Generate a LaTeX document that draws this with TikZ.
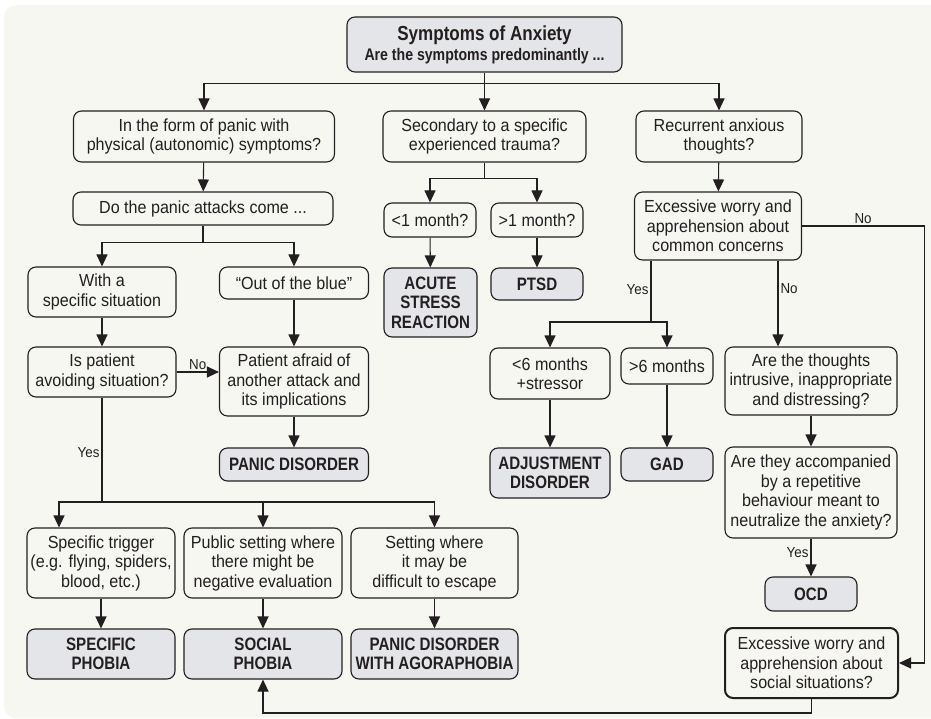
\documentclass[tikz,border=0pt]{standalone}
\usepackage{fontspec}
\setmainfont{Liberation Sans}[FakeStretch=0.92, BoldFeatures={FakeStretch=0.84}]
\usetikzlibrary{arrows.meta,positioning}
\definecolor{paper}{HTML}{F7F7F1}
\definecolor{shade}{HTML}{E4E5E9}
\definecolor{ink}{HTML}{231F20}
\tikzset{
    box/.style={rectangle, draw=ink, rounded corners=8pt, line width=1.1pt, fill=paper, align=center, inner sep=2pt, text=ink, font=\fontsize{17.5}{19.5}\selectfont},
    result/.style={box, fill=shade, font=\bfseries\fontsize{18}{19.5}\selectfont},
    edge/.style={draw=ink, line width=1.1pt, -{Triangle[length=12pt, width=11pt]}},
    line/.style={draw=ink, line width=1.1pt},
    answer/.style={text=ink, font=\fontsize{14.5}{16}\selectfont, inner sep=2pt}
}

\begin{document}
\begin{tikzpicture}[x=1pt, y=-1pt]
    \useasboundingbox (0,0) rectangle (931,719);
    \fill[paper, rounded corners=12pt] (4,5) rectangle (960,718);

    % Nodes
    \node[result, minimum width=275pt, minimum height=55pt, font=\bfseries\fontsize{16.8}{20}\selectfont] (anxiety) at (484.5,44.5) {{\fontsize{20.3}{20}\selectfont Symptoms of Anxiety}\\Are the symptoms predominantly ...};
    \node[box, minimum width=261pt, minimum height=51pt] (panic) at (204,136.5) {In the form of panic with\\physical (autonomic) symptoms?};
    \node[box, minimum width=203pt, minimum height=51pt] (trauma) at (484.5,136.5) {Secondary to a specific\\experienced trauma?};
    \node[box, minimum width=166pt, minimum height=51pt] (thoughts) at (719,136.5) {Recurrent anxious\\thoughts?};

    \node[box, minimum width=260pt, minimum height=33pt] (come) at (203,208.5) {Do the panic attacks come ...};
    \node[box, minimum width=148pt, minimum height=50pt] (situation) at (102,292) {With a\\specific situation};
    \node[box, minimum width=149pt, minimum height=32pt] (blue) at (294,283) {“Out of the blue”};
    \node[box, minimum width=148pt, minimum height=50pt] (avoid) at (102,372) {Is patient\\avoiding situation?};
    \node[box, minimum width=149pt, minimum height=69pt] (afraid) at (294,381.5) {Patient afraid of\\another attack and\\its implications};
    \node[result, minimum width=149pt, minimum height=33pt] (pd) at (294,464.5) {PANIC DISORDER};

    \node[box, minimum width=92pt, minimum height=34pt] (less1) at (430,220) {<1 month?};
    \node[box, minimum width=92pt, minimum height=34pt] (more1) at (537,220) {>1 month?};
    \node[result, minimum width=93pt, minimum height=69pt] (acute) at (430.5,302.5) {ACUTE\\STRESS\\REACTION};
    \node[result, minimum width=92pt, minimum height=32pt] (ptsd) at (537,284) {PTSD};

    \node[box, minimum width=167pt, minimum height=68pt] (worry) at (718,226) {Excessive worry and\\apprehension about\\common concerns};
    \node[box, minimum width=120pt, minimum height=51pt] (less6) at (550,373.5) {<6 months\\+stressor};
    \node[box, minimum width=92pt, minimum height=36pt] (more6) at (667,366) {>6 months};
    \node[box, minimum width=172pt, minimum height=68pt] (intrusive) at (811,381) {Are the thoughts\\intrusive, inappropriate\\and distressing?};
    \node[result, minimum width=120pt, minimum height=50pt] (adjust) at (550,473) {ADJUSTMENT\\DISORDER};
    \node[result, minimum width=92pt, minimum height=33pt] (gad) at (667,464.5) {GAD};
    \node[box, minimum width=172pt, minimum height=91pt] (repeat) at (811,492.5) {Are they accompanied\\by a repetitive\\behaviour meant to\\neutralize the anxiety?};
    \node[result, minimum width=92pt, minimum height=34pt] (ocd) at (811,594) {OCD};
    \node[box, line width=2pt, minimum width=173pt, minimum height=70pt] (social) at (811.5,663) {Excessive worry and\\apprehension about\\social situations?};

    \node[box, minimum width=148pt, minimum height=70pt] (trigger) at (101,563) {Specific trigger\\(e.g. flying, spiders,\\blood, etc.)};
    \node[box, minimum width=158pt, minimum height=70pt] (public) at (263,563) {Public setting where\\there might be\\negative evaluation};
    \node[box, minimum width=167pt, minimum height=70pt] (escape) at (434.5,563) {Setting where\\it may be\\difficult to escape};
    \node[result, minimum width=148pt, minimum height=50pt] (specific) at (101,654) {SPECIFIC\\PHOBIA};
    \node[result, minimum width=158pt, minimum height=50pt] (sphobia) at (263,654) {SOCIAL\\PHOBIA};
    \node[result, minimum width=167pt, minimum height=50pt] (agora) at (434.5,654) {PANIC DISORDER\\WITH AGORAPHOBIA};

    \coordinate (fork) at (102,502);
    \coordinate (wfork) at (651,322);

    % edges
    \draw[edge] (anxiety.south) -- ++(0,11) -| (panic.north);
    \draw[edge] (anxiety.south) -- (trauma.north);
    \draw[edge] (anxiety.south) -- ++(0,11) -| (thoughts.north);

    \draw[edge] (panic) -- (come);
    \draw[edge] (come.south) -- ++(0,17) -| (situation.north);
    \draw[edge] (come.south) -- ++(0,17) -| (blue.north);
    \draw[edge] (situation) -- (avoid);
    \draw[edge] (blue) -- (afraid);
    \draw[edge] (avoid.east) -- node[answer, above] {No} (avoid.east -| afraid.west);
    \draw[edge] (afraid) -- (pd);
    \draw[line] (avoid.south) -- node[answer, left, pos=0.53] {Yes} (fork);
    \draw[edge] (fork) -| ([xshift=-42pt]trigger.north);
    \draw[edge] (fork) -| (public.north);
    \draw[edge] (fork) -| (escape.north);
    \draw[edge] (trigger) -- (specific);
    \draw[edge] (public) -- (sphobia);
    \draw[edge] (escape) -- (agora);

    \draw[edge] (trauma.south) -- ++(0,16) -| (less1.north);
    \draw[edge] (trauma.south) -- ++(0,16) -| (more1.north);
    \draw[edge] (less1) -- (acute);
    \draw[edge] (more1) -- (ptsd);

    \draw[edge] (thoughts) -- (worry);
    \draw[line] (wfork |- worry.south) -- node[answer, left, pos=0.47] {Yes} (wfork);
    \draw[edge] (wfork) -| (less6.north);
    \draw[edge] (wfork) -| (more6.north);
    \draw[edge] ([xshift=60pt]worry.south) -- node[answer, right, pos=0.33] {No} ([xshift=60pt]worry.south |- intrusive.north);
    \draw[edge] (worry.east) -- node[answer, above] {No} ++(122,0) |- (social.east);
    \draw[edge] (less6) -- (adjust);
    \draw[edge] (more6) -- (gad);
    \draw[edge] (intrusive) -- (repeat);
    \draw[edge] (repeat) -- node[answer, left, pos=0.36] {Yes} (ocd);
    \draw[edge] (social.south) -- ++(0,14) -| (sphobia.south);
\end{tikzpicture}
\end{document}
